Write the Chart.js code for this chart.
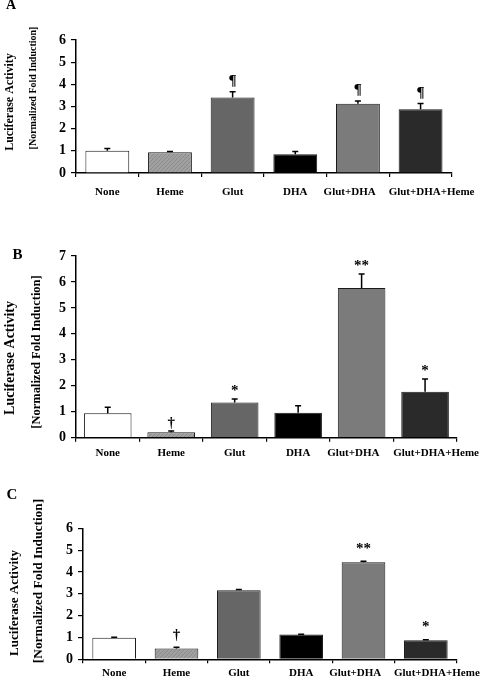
<!DOCTYPE html>
<html>
<head>
<meta charset="utf-8">
<script src="https://cdn.jsdelivr.net/npm/chart.js@4"></script>
<style>
  body { margin: 0; background: #fff; width: 486px; height: 676px; overflow: hidden; position: relative; }
  canvas { position: absolute; left: 0; }
</style>
</head>
<body>
<canvas id="chart-a" width="486" height="205" style="top:0px"></canvas>
<canvas id="chart-b" width="486" height="257" style="top:205px"></canvas>
<canvas id="chart-c" width="486" height="214" style="top:462px"></canvas>
<script>
// ---- data ----
const categories = ['None', 'Heme', 'Glut', 'DHA', 'Glut+DHA', 'Glut+DHA+Heme'];

const valuesA = [1.0, 0.94, 3.41, 0.85, 3.12, 2.88];
const errorsA = [0.1, 0.03, 0.25, 0.12, 0.13, 0.25];
const marksA  = ['', '', '¶', '', '¶', '¶'];

const valuesB = [0.94, 0.21, 1.36, 0.96, 5.77, 1.77];
const errorsB = [0.23, 0.05, 0.13, 0.27, 0.54, 0.49];
const marksB  = ['', '†', '*', '', '**', '*'];

const valuesC = [0.99, 0.50, 3.16, 1.14, 4.44, 0.87];
const errorsC = [0.02, 0.05, 0.04, 0.01, 0.05, 0.03];
const marksC  = ['', '†', '', '', '**', '*'];

const SERIF = '"Liberation Serif", "Times New Roman", serif';

// hatch pattern for Heme
function hatchPattern() {
  const c = document.createElement('canvas');
  c.width = 4; c.height = 4;
  const g = c.getContext('2d');
  g.fillStyle = '#a0a0a0';
  g.fillRect(0, 0, 4, 4);
  g.strokeStyle = '#8c8c8c';
  g.lineWidth = 1;
  g.beginPath();
  g.moveTo(0, 4); g.lineTo(4, 0);
  g.stroke();
  return g.createPattern(c, 'repeat');
}
const barColors = ['#ffffff', hatchPattern(), '#666666', '#000000', '#7b7b7b', '#2a2a2a'];

// the last two labels are long; nudge them apart like the original layout
function tickText(label, i, n) {
  if (i === n - 1) return '        ' + label;
  if (i === n - 2) return label + '      ';
  return label;
}

// error bars + significance marks
const errorPlugin = {
  id: 'errs',
  afterDatasetsDraw(chart) {
    const o = chart.options.plugins.errs;
    const ctx = chart.ctx;
    const meta = chart.getDatasetMeta(0);
    const ys = chart.scales.y;
    ctx.save();
    ctx.strokeStyle = '#000';
    ctx.lineWidth = 1.5;
    meta.data.forEach((bar, i) => {
      const top = ys.getPixelForValue(o.values[i] + o.errors[i]);
      ctx.beginPath();
      ctx.moveTo(bar.x, bar.y);
      ctx.lineTo(bar.x, top);
      ctx.moveTo(bar.x - 3, top);
      ctx.lineTo(bar.x + 3, top);
      ctx.stroke();
      if (o.marks[i]) {
        ctx.fillStyle = '#000';
        ctx.font = 'bold 15px ' + SERIF;
        ctx.textAlign = 'center';
        ctx.textBaseline = 'bottom';
        ctx.fillText(o.marks[i], bar.x, top - o.gap);
      }
    });
    ctx.restore();
  }
};

// panel letter and the two y-axis title lines
const labelPlugin = {
  id: 'labels',
  afterDraw(chart) {
    const o = chart.options.plugins.labels;
    const ctx = chart.ctx;
    ctx.save();
    ctx.fillStyle = '#000';
    ctx.textAlign = 'center';
    ctx.textBaseline = 'middle';
    ctx.font = 'bold ' + o.letterSize + 'px ' + SERIF;
    ctx.fillText(o.letter, o.letterPos[0], o.letterPos[1]);
    o.titles.forEach(t => {
      ctx.save();
      ctx.translate(t.x, t.y);
      ctx.rotate(-Math.PI / 2);
      ctx.font = 'bold ' + t.size + 'px ' + SERIF;
      ctx.fillText(t.text, 0, 0);
      ctx.restore();
    });
    ctx.restore();
  }
};

function makeChart(id, values, errors, marks, opt) {
  const canvas = document.getElementById(id);
  return new Chart(canvas.getContext('2d'), {
    type: 'bar',
    data: {
      labels: categories,
      datasets: [{
        data: values,
        backgroundColor: barColors,
        borderColor: '#1a1a1a',
        borderWidth: 1,
        categoryPercentage: 1,
        barPercentage: opt.barPct
      }]
    },
    options: {
      responsive: false,
      animation: false,
      layout: { padding: { top: opt.top, right: opt.right, left: 0, bottom: 0 } },
      plugins: {
        legend: { display: false },
        tooltip: { enabled: false },
        errs: { values: values, errors: errors, marks: marks, gap: opt.gap },
        labels: opt.labels
      },
      scales: {
        x: {
          afterFit: s => { s.height = opt.xHeight; },
          border: { color: '#000', width: 1.5 },
          grid: { offset: true, drawOnChartArea: false, color: '#000', tickLength: 4, lineWidth: 1.2 },
          ticks: {
            color: '#000', padding: opt.xPad, maxRotation: 0, autoSkip: false,
            font: { family: SERIF, size: 11, weight: 'bold' },
            callback: (v, i) => tickText(categories[v], i, categories.length)
          }
        },
        y: {
          min: 0,
          max: opt.max,
          afterFit: s => { s.width = opt.left; },
          border: { color: '#000', width: 1.5 },
          grid: { drawOnChartArea: false, color: '#000', tickLength: 5, lineWidth: 1.2 },
          ticks: { stepSize: 1, color: '#000', padding: 5, font: { family: SERIF, size: 14, weight: 'bold' } }
        }
      }
    },
    plugins: [errorPlugin, labelPlugin]
  });
}

makeChart('chart-a', valuesA, errorsA, marksA, {
  max: 6, top: 40, right: 30, left: 76, xHeight: 32, xPad: 9, barPct: 0.7, gap: 3,
  labels: {
    letter: 'A', letterSize: 14, letterPos: [11, 5],
    titles: [
      { text: 'Luciferase Activity', x: 10, y: 102, size: 12 },
      { text: '[Normalized Fold Induction]', x: 33, y: 88, size: 10 }
    ]
  }
});

makeChart('chart-b', valuesB, errorsB, marksB, {
  max: 7, top: 51, right: 24, left: 76, xHeight: 24.3, xPad: 5, barPct: 0.75, gap: 0,
  labels: {
    letter: 'B', letterSize: 15, letterPos: [17.5, 50],
    titles: [
      { text: 'Luciferase Activity', x: 10, y: 153, size: 14 },
      { text: '[Normalized Fold Induction]', x: 36.5, y: 147, size: 12.5 }
    ]
  }
});

makeChart('chart-c', valuesC, errorsC, marksC, {
  max: 6, top: 66.3, right: 29, left: 83, xHeight: 16.7, xPad: 3, barPct: 0.7, gap: 5,
  labels: {
    letter: 'C', letterSize: 15, letterPos: [12, 33],
    titles: [
      { text: 'Luciferase Activity', x: 14.5, y: 141, size: 13 },
      { text: '[Normalized Fold Induction]', x: 39, y: 119, size: 13.4 }
    ]
  }
});
</script>
</body>
</html>
